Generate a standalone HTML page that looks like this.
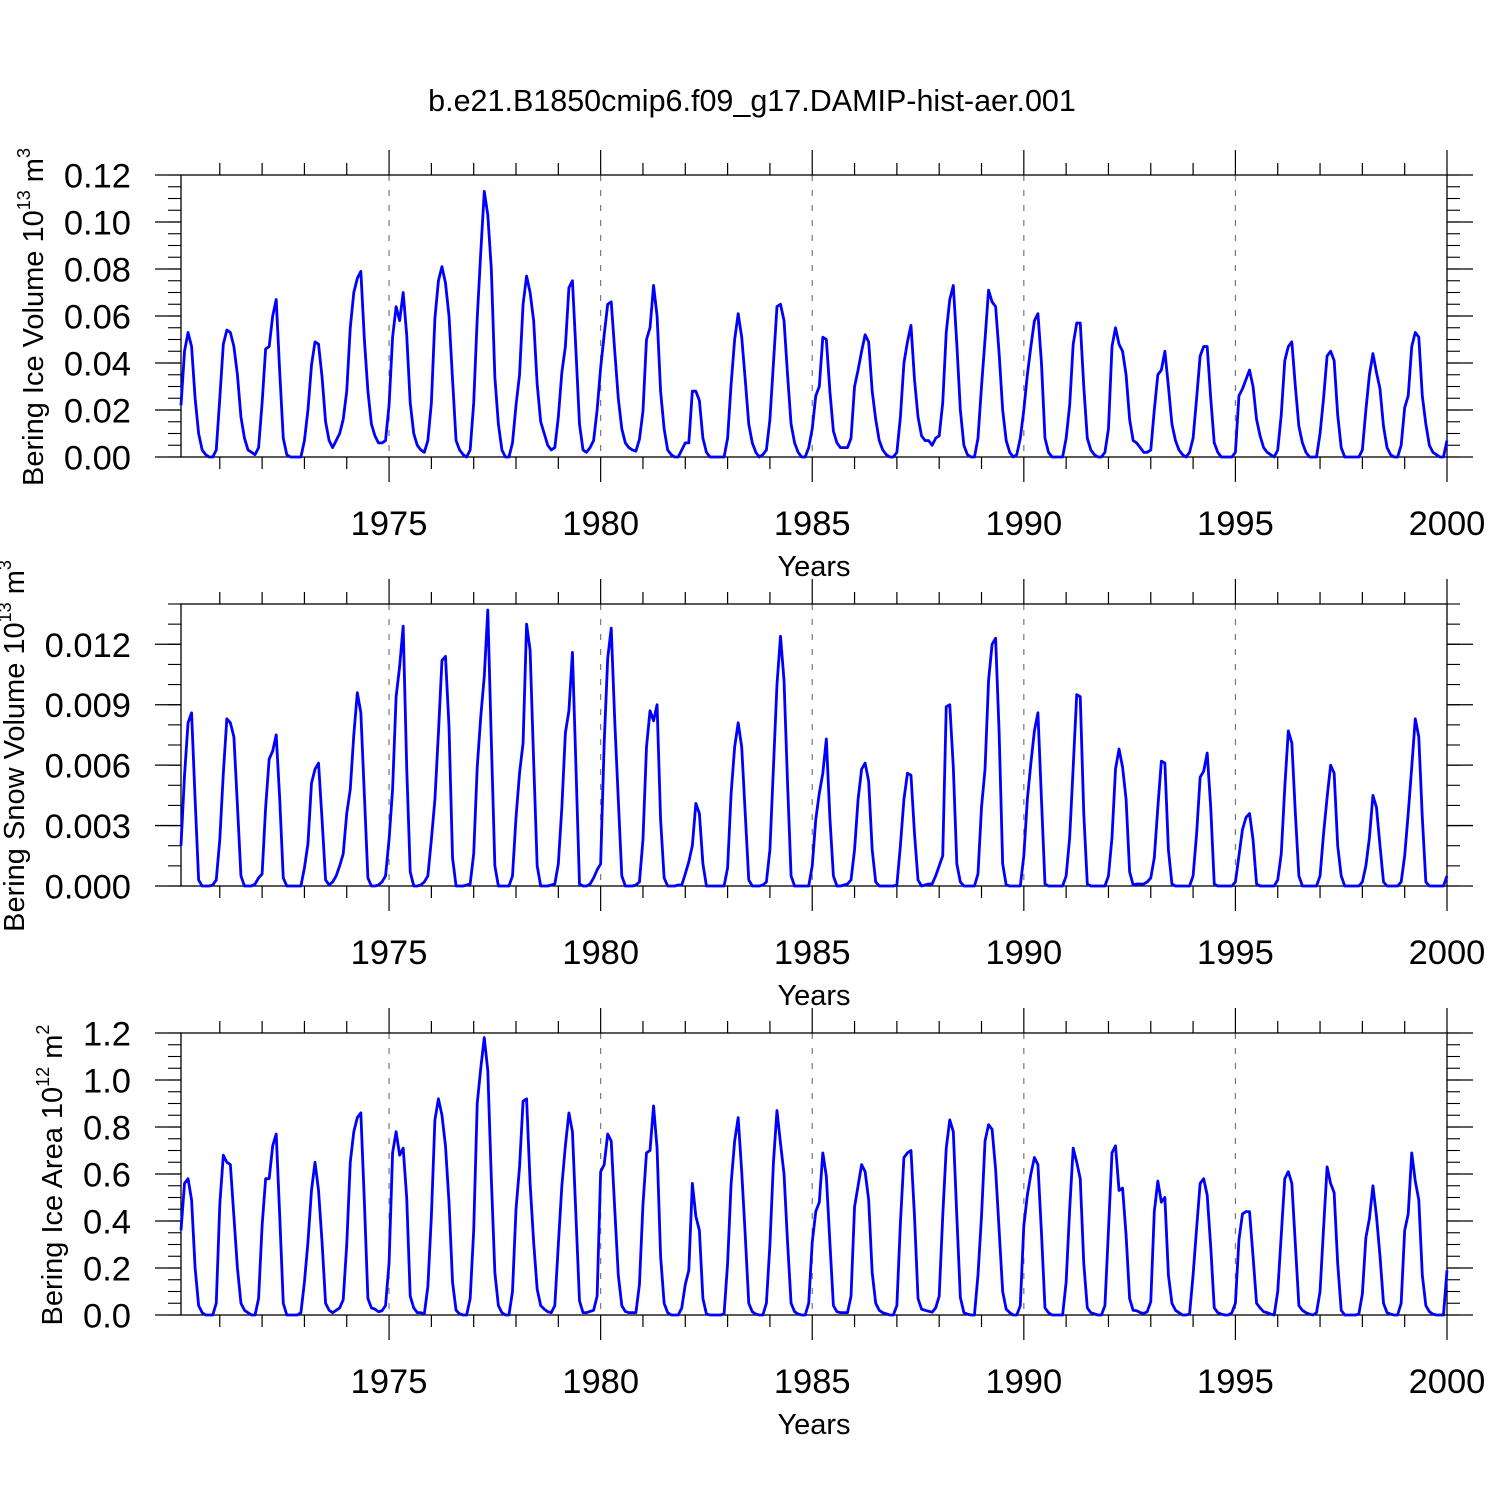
<!DOCTYPE html>
<html><head><meta charset="utf-8"><style>
html,body{margin:0;padding:0;background:#fff;}
svg{display:block;font-family:"Liberation Sans",sans-serif;}
</style></head><body>
<svg id="chart" width="1500" height="1500" viewBox="0 0 1500 1500">
<rect width="1500" height="1500" fill="#fff"/>
<text x="752" y="111" font-size="30.5" text-anchor="middle">b.e21.B1850cmip6.f09_g17.DAMIP-hist-aer.001</text>
<text transform="translate(43,317) rotate(-90)" font-size="29" text-anchor="middle">Bering Ice Volume 10<tspan font-size="18" dy="-13">13</tspan><tspan dy="13"> m</tspan><tspan font-size="18" dy="-13">3</tspan></text>
<text transform="translate(24,746) rotate(-90)" font-size="29" text-anchor="middle">Bering Snow Volume 10<tspan font-size="18" dy="-13">13</tspan><tspan dy="13"> m</tspan><tspan font-size="18" dy="-13">3</tspan></text>
<text transform="translate(62,1175) rotate(-90)" font-size="29" text-anchor="middle">Bering Ice Area 10<tspan font-size="18" dy="-13">12</tspan><tspan dy="13"> m</tspan><tspan font-size="18" dy="-13">2</tspan></text>
</svg>
<script>
// ---- data (monthly, Jan 1970 .. Dec 1999) ----
const yearTicks = [1975, 1980, 1985, 1990, 1995, 2000];
const iceVolume = [
.022,.045,.053,.047,.025,.010,.003,.001,0,0,.003,.025,
.048,.054,.053,.047,.035,.017,.008,.003,.002,.001,.004,.023,
.046,.047,.060,.067,.036,.008,.001,0,0,0,0,.007,
.020,.039,.049,.048,.034,.015,.007,.004,.007,.010,.016,.028,
.055,.070,.076,.079,.050,.028,.014,.009,.006,.006,.007,.022,
.051,.064,.058,.070,.052,.023,.010,.005,.003,.002,.007,.023,
.059,.075,.081,.074,.060,.033,.007,.003,.001,0,.003,.023,
.059,.087,.113,.103,.080,.034,.014,.003,0,0,.006,.022,
.035,.065,.077,.070,.058,.031,.015,.010,.005,.003,.004,.017,
.036,.047,.072,.075,.045,.014,.003,.002,.004,.007,.020,.038,
.052,.065,.066,.045,.025,.012,.006,.004,.003,.0025,.0075,.0195,
.050,.055,.073,.060,.028,.012,.003,.001,0,0,.003,.006,
.006,.028,.028,.024,.008,.002,0,0,0,0,0,.008,
.031,.050,.061,.051,.033,.014,.006,.002,0,.001,.003,.016,
.040,.064,.065,.058,.035,.014,.006,.002,0,0,.004,.012,
.026,.030,.051,.050,.028,.011,.006,.004,.004,.004,.008,.030,
.037,.045,.052,.049,.028,.016,.007,.003,.001,0,0,.002,
.017,.040,.049,.056,.033,.017,.009,.007,.007,.005,.008,.009,
.023,.053,.067,.073,.048,.020,.005,.001,0,0,.008,.030,
.050,.071,.066,.064,.044,.020,.007,.002,0,.001,.008,.020,
.035,.047,.058,.061,.040,.008,.002,0,0,0,0,.008,
.022,.048,.057,.057,.030,.008,.003,.001,0,0,.002,.012,
.047,.055,.048,.045,.035,.016,.007,.006,.004,.002,.002,.003,
.020,.035,.037,.045,.030,.014,.007,.003,.001,0,.002,.008,
.025,.043,.047,.047,.025,.006,.002,0,0,0,0,.002,
.026,.029,.033,.037,.030,.016,.009,.004,.002,.001,0,.003,
.018,.041,.047,.049,.030,.013,.006,.002,0,0,0,.010,
.025,.043,.045,.041,.018,.004,0,0,0,0,0,.003,
.020,.035,.044,.036,.029,.013,.004,.001,0,0,.005,.021,
.026,.047,.053,.051,.026,.014,.005,.002,.001,0,0,.007
];
// snow volume in units of 1e-3 (x10^13 m^3)
const snowVolumeMilli = [
2.0,5.5,8.1,8.6,4.3,0.3,0,0,0,0.05,0.3,2.3,
5.6,8.3,8.1,7.4,4.0,0.5,0,0,0,0.1,0.4,0.6,
3.9,6.3,6.7,7.5,4.3,0.4,0,0,0,0,0,0.9,
2.1,5.1,5.8,6.1,3.3,0.3,0.05,0.2,0.5,1.0,1.6,3.6,
4.8,7.5,9.6,8.6,4.5,0.4,0,0,0.05,0.2,0.5,2.3,
4.8,9.4,10.9,12.9,5.9,0.7,0,0,0.05,0.2,0.5,2.3,
4.3,7.6,11.2,11.4,7.9,1.4,0,0,0,0.05,0.1,1.6,
5.9,8.4,10.4,13.7,7.2,1.0,0,0,0,0,0.5,3.4,
5.6,7.1,13.0,11.7,6.2,1.0,0,0,0,0.05,0.1,1.1,
3.9,7.6,8.7,11.6,5.9,0.1,0,0,0.1,0.4,0.8,1.1,
7.1,11.3,12.8,8.2,4.3,0.5,0,0,0,0.05,0.2,2.3,
6.9,8.7,8.2,9.0,3.3,0.4,0,0,0,0.05,0.05,0.6,
1.2,2.0,4.1,3.6,1.1,0,0,0,0,0,0,0.9,
4.6,6.9,8.1,6.9,3.6,0.3,0,0,0,0.05,0.2,1.8,
5.9,10.0,12.4,10.2,5.1,0.5,0,0,0,0,0,1.0,
3.3,4.6,5.6,7.3,3.4,0.5,0,0,0.05,0.1,0.3,1.8,
4.3,5.8,6.1,5.2,1.8,0.2,0,0,0,0,0,0.05,
2.0,4.3,5.6,5.5,2.6,0.3,0,0.05,0.1,0.1,0.5,1.0,
1.5,8.9,9.0,5.9,1.1,0.2,0,0,0,0,0.6,3.9,
5.8,10.2,12.0,12.3,7.6,1.1,0.05,0,0,0,0,1.5,
4.3,6.1,7.7,8.6,4.3,0.1,0,0,0,0,0,0.5,
2.4,5.9,9.5,9.4,3.6,0.1,0,0,0,0,0,0.5,
2.4,5.8,6.8,5.9,4.3,0.7,0.05,0.1,0.1,0.1,0.2,0.4,
1.4,3.9,6.2,6.1,1.8,0.1,0,0,0,0,0,0.5,
2.6,5.4,5.7,6.6,3.9,0.1,0,0,0,0,0,0.2,
1.5,2.8,3.4,3.6,2.3,0.1,0,0,0,0,0,0.3,
1.6,4.9,7.7,7.1,3.6,0.5,0,0,0,0,0,0.5,
2.6,4.4,6.0,5.6,2.0,0.5,0,0,0,0,0,0.2,
1.0,2.4,4.5,3.9,2.0,0.2,0,0,0,0,0.2,1.5,
3.6,5.9,8.3,7.4,3.4,0.2,0,0,0,0,0,0.5
];
const iceArea = [
.36,.56,.58,.49,.20,.04,.01,0,0,0,.05,.47,
.68,.65,.64,.42,.20,.05,.02,.01,0,0,.07,.38,
.58,.58,.72,.77,.42,.05,0,0,0,0,.01,.14,
.31,.53,.65,.53,.31,.05,.02,.01,.02,.03,.065,.30,
.65,.78,.84,.86,.48,.07,.03,.025,.014,.018,.04,.22,
.69,.78,.68,.71,.50,.08,.03,.01,.01,.005,.12,.42,
.83,.92,.85,.72,.48,.14,.02,.005,0,0,.07,.36,
.90,1.05,1.18,1.04,.58,.18,.04,.01,0,0,.10,.45,
.63,.91,.92,.56,.31,.11,.04,.025,.014,.01,.04,.30,
.55,.72,.86,.78,.42,.06,.01,.01,.015,.02,.08,.61,
.64,.77,.74,.45,.17,.04,.015,.01,.01,.01,.13,.47,
.69,.70,.89,.71,.25,.05,.01,0,0,0,.03,.13,
.19,.56,.42,.36,.07,.004,0,0,0,0,.004,.22,
.56,.74,.84,.61,.34,.05,.014,.004,0,0,.05,.30,
.65,.87,.73,.60,.31,.05,.014,.004,0,0,.05,.31,
.44,.48,.69,.59,.31,.04,.014,.01,.01,.01,.08,.46,
.55,.64,.61,.49,.18,.05,.02,.01,.005,0,0,.04,
.39,.67,.69,.70,.42,.07,.025,.02,.016,.012,.03,.08,
.42,.71,.83,.78,.42,.075,.01,.004,0,0,.17,.42,
.74,.81,.79,.62,.36,.10,.025,.01,0,0,.04,.38,
.51,.60,.67,.64,.35,.03,.01,0,0,0,0,.14,
.45,.71,.65,.58,.22,.03,.01,.005,0,0,.04,.36,
.69,.72,.53,.54,.34,.07,.02,.018,.01,.007,.014,.057,
.44,.57,.48,.50,.17,.05,.02,.01,0,0,.004,.17,
.37,.56,.58,.51,.29,.03,.01,.004,0,0,.01,.05,
.32,.43,.44,.44,.25,.05,.03,.014,.01,.004,0,.10,
.34,.58,.61,.56,.30,.04,.02,.01,.004,0,.01,.10,
.37,.63,.56,.52,.22,.02,0,0,0,0,.004,.09,
.33,.41,.55,.42,.25,.05,.01,.004,0,0,.05,.36,
.43,.69,.57,.49,.17,.04,.014,.004,0,0,0,.19
];
const iceVolumeTicks = [0, 0.02, 0.04, 0.06, 0.08, 0.10, 0.12];
const snowVolumeTicks = [0, 3, 6, 9, 12];
const iceAreaTicks = [0, 0.2, 0.4, 0.6, 0.8, 1.0, 1.2];

// ---- layout ----
const NS = "http://www.w3.org/2000/svg";
const svg = document.getElementById('chart');
const X0 = 181, X1 = 1447, H = 282;
const T0 = 1970 + 1/12, T1 = 2000;
function xScale(t){ return X0 + (t - T0) / (T1 - T0) * (X1 - X0); }
function timeOf(i){ return 1970 + (i + 1) / 12; }
function mk(tag, attrs, parent){
  const e = document.createElementNS(NS, tag);
  for (const k in attrs) e.setAttribute(k, attrs[k]);
  (parent || svg).appendChild(e);
  return e;
}

function panel(name, top, values, yMax, ticks, fmt, minorStep){
  const g = mk('g', {});
  
  
  const bot = top + H;
  const yScale = v => bot - v / yMax * H;
  for (let k = 0; k < yearTicks.length - 1; k++) {
    const x = xScale(yearTicks[k]);
    const gl = mk('line', {x1:x, x2:x, y1:top, y2:bot, stroke:'#777', 'stroke-width':1.2, 'stroke-dasharray':'6,9'}, g);
    
    
  }
  const fr = mk('rect', {x:X0, y:top, width:X1-X0, height:H, fill:'none', stroke:'#000', 'stroke-width':1.3}, g);
  
  
  for (let yr = 1971; yr <= 2000; yr++) {
    const x = xScale(yr);
    const major = yr % 5 === 0;
    const L = major ? 25 : 12;
    mk('line', {x1:x, x2:x, y1:bot, y2:bot+L, stroke:'#000', 'stroke-width':1.2}, g);
    mk('line', {x1:x, x2:x, y1:top, y2:top-L, stroke:'#000', 'stroke-width':1.2}, g);
  }
  yearTicks.forEach(yr => {
    const t = mk('text', {x:xScale(yr), y:bot+78, 'font-size':34.5, 'text-anchor':'middle'}, g);
    t.textContent = yr;
    
    
  });
  const xt = mk('text', {x:814, y:bot+119, 'font-size':29, 'text-anchor':'middle'}, g);
  xt.textContent = 'Years';
  
  
  const nMinor = Math.round(yMax / minorStep);
  for (let k = 0; k <= nMinor; k++) {
    const y = yScale(k * minorStep);
    mk('line', {x1:X0-13, x2:X0, y1:y, y2:y, stroke:'#000', 'stroke-width':1.1}, g);
    mk('line', {x1:X1, x2:X1+13, y1:y, y2:y, stroke:'#000', 'stroke-width':1.1}, g);
  }
  ticks.forEach(v => {
    const y = yScale(v);
    mk('line', {x1:X0-26, x2:X0, y1:y, y2:y, stroke:'#000', 'stroke-width':1.3}, g);
    mk('line', {x1:X1, x2:X1+26, y1:y, y2:y, stroke:'#000', 'stroke-width':1.3}, g);
    const t = mk('text', {x:131, y:y+12.5, 'font-size':34.5, 'text-anchor':'end'}, g);
    t.textContent = fmt(v);
    
    
  });
  let d = '';
  values.forEach((v, i) => {
    d += (i ? 'L' : 'M') + xScale(timeOf(i)).toFixed(2) + ',' + yScale(v).toFixed(2);
  });
  const p = mk('path', {d:d, fill:'none', stroke:'#0000ff', 'stroke-width':2.8, 'stroke-linejoin':'round'}, g);
  
  
}

panel('ice-volume', 175, iceVolume, 0.12, iceVolumeTicks, v => v.toFixed(2), 0.005);
panel('snow-volume', 604, snowVolumeMilli, 14, snowVolumeTicks, v => (v/1000).toFixed(3), 1);
panel('ice-area', 1033, iceArea, 1.2, iceAreaTicks, v => v.toFixed(1), 0.05);
</script>
</body></html>
